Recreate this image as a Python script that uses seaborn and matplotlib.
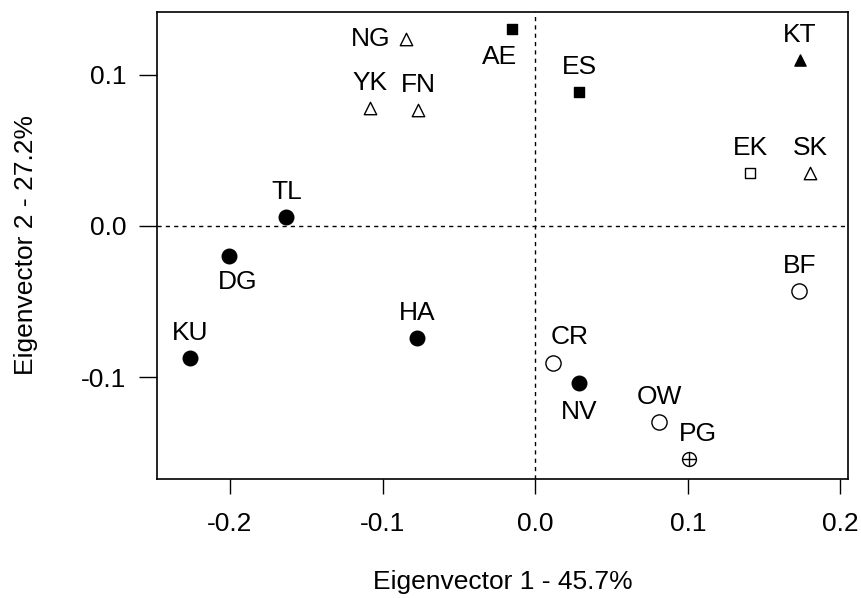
import matplotlib
matplotlib.use("Agg")
import matplotlib.pyplot as plt
import seaborn as sns
import pandas as pd

# ---- data ----
sites = ["NG", "AE", "ES", "KT", "EK", "SK", "YK", "FN", "TL", "DG",
         "KU", "HA", "CR", "NV", "OW", "PG", "BF"]
ev1 = [-0.0845, -0.0152, 0.029, 0.1736, 0.141, 0.180, -0.108, -0.0766,
       -0.163, -0.2007, -0.2264, -0.0772, 0.0119, 0.029, 0.0812, 0.101, 0.1730]
ev2 = [0.1238, 0.1305, 0.0887, 0.110, 0.035, 0.035, 0.078, 0.0768,
       0.006, -0.0199, -0.0874, -0.0742, -0.0907, -0.104, -0.1298, -0.1543, -0.043]
group = ["open_tri", "fill_sq", "fill_sq", "fill_tri", "open_sq", "open_tri",
         "open_tri", "open_tri", "fill_circ", "fill_circ", "fill_circ",
         "fill_circ", "open_circ", "fill_circ", "open_circ", "plus_circ", "open_circ"]
xticks = [-0.2, -0.1, 0.0, 0.1, 0.2]
yticks = [-0.1, 0.0, 0.1]
xlabel = "Eigenvector 1 - 45.7%"
ylabel = "Eigenvector 2 - 27.2%"

df = pd.DataFrame({"site": sites, "x": ev1, "y": ev2, "group": group})

# ---- styles ----
sns.set_style("white")
plt.rcParams["font.family"] = ["Liberation Sans", "DejaVu Sans"]
plt.rcParams["axes.unicode_minus"] = False
plt.rcParams["text.color"] = "black"
plt.rcParams["axes.labelcolor"] = "black"
plt.rcParams["xtick.color"] = "black"
plt.rcParams["ytick.color"] = "black"

styles = {
    "fill_circ": dict(marker="o", s=110, facecolor="black"),
    "open_circ": dict(marker="o", s=120, facecolor="white"),
    "plus_circ": dict(marker="o", s=100, facecolor="white"),
    "open_tri": dict(marker="^", s=80, facecolor="white"),
    "fill_tri": dict(marker="^", s=65, facecolor="black"),
    "fill_sq": dict(marker="s", s=50, facecolor="black"),
    "open_sq": dict(marker="s", s=60, facecolor="white"),
}
# label offsets in points (dx, dy) and alignment
offsets = {
    "NG": (-11, 0, "right", "center"),
    "AE": (-9, -20, "center", "center"),
    "DG": (6, -19, "center", "center"),
    "CR": (12, 19, "center", "center"),
    "NV": (0, -21, "center", "center"),
    "PG": (6, 18, "center", "center"),
}
default_off = (0, 18, "center", "center")
FS = 19

fig = plt.figure(figsize=(8.61, 5.98), dpi=100)
ax = fig.add_axes([0.182, 0.199, 0.803, 0.781])

ax.axhline(0, color="black", lw=1.0, ls=(0, (3, 3)), zorder=1)
ax.axvline(0, color="black", lw=1.0, ls=(0, (3, 3)), zorder=1)

for g, st in styles.items():
    sub = df[df["group"] == g]
    sns.scatterplot(data=sub, x="x", y="y", ax=ax, marker=st["marker"], s=st["s"],
                    facecolor=st["facecolor"], edgecolor="black", linewidth=1.0,
                    zorder=3, legend=False)
    if g == "plus_circ":
        sns.scatterplot(data=sub, x="x", y="y", ax=ax, marker="+", s=st["s"],
                        color="black", linewidth=1.0, zorder=4, legend=False)

for _, r in df.iterrows():
    dx, dy, ha, va = offsets.get(r["site"], default_off)
    ax.annotate(r["site"], (r["x"], r["y"]), xytext=(dx, dy),
                textcoords="offset points", ha=ha, va=va, fontsize=FS,
                color="black")

ax.set_xlim(-0.248, 0.205)
ax.set_ylim(-0.1675, 0.1417)
ax.set_xticks(xticks)
ax.set_yticks(yticks)
ax.set_xticklabels([f"{t:.1f}" for t in xticks])
ax.set_yticklabels([f"{t:.1f}" for t in yticks])
ax.tick_params(axis="x", direction="out", length=11, width=1.0,
               labelsize=FS, pad=13, color="black", labelcolor="black", bottom=True)
ax.tick_params(axis="y", direction="out", length=13, width=1.0,
               labelsize=FS, pad=9, color="black", labelcolor="black", left=True)
for sp in ax.spines.values():
    sp.set_color("black")
    sp.set_linewidth(1.2)

ax.set_xlabel(xlabel, fontsize=FS, labelpad=24, color="black")
ax.set_ylabel(ylabel, fontsize=FS, labelpad=31, color="black")

fig.savefig("out.png", dpi=100)
